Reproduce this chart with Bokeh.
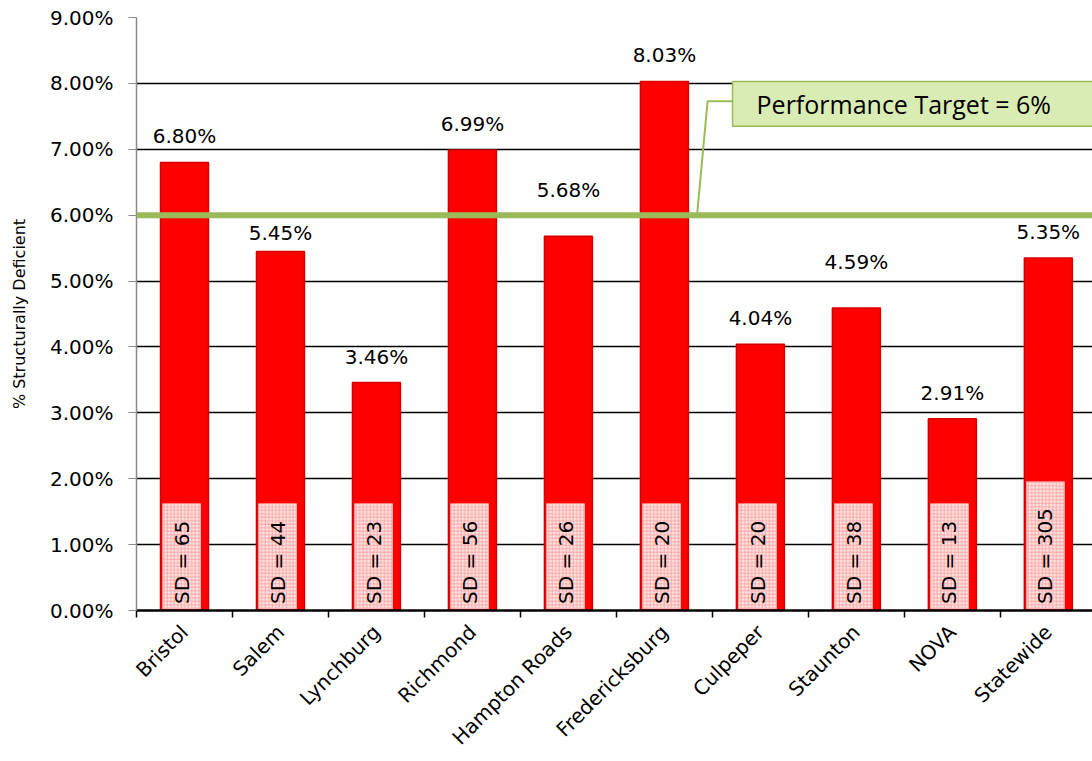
import math
from bokeh.plotting import figure
from bokeh.models import Range1d, FixedTicker, PrintfTickFormatter, Span, ColumnDataSource
from bokeh.core.properties import value
from bokeh.embed import file_html
from bokeh.resources import INLINE

# ---- data ----
regions = ["Bristol", "Salem", "Lynchburg", "Richmond", "Hampton Roads",
           "Fredericksburg", "Culpeper", "Staunton", "NOVA", "Statewide"]
pct_sd = [6.80, 5.45, 3.46, 6.99, 5.68, 8.03, 4.04, 4.59, 2.91, 5.35]
sd_count = [65, 44, 23, 56, 26, 20, 20, 38, 13, 305]
target = 6.0
y_ticks = [0, 1, 2, 3, 4, 5, 6, 7, 8, 9]
target_label = "Performance Target = 6%"

# styling: extra upward nudge (px) of some value labels, as placed in the original
label_nudge = {"Hampton Roads": 20, "Staunton": 20, "Salem": -8}

FONT = "DejaVu Sans"
RED = "#ff0000"
GREEN = "#9bbb59"

xc = [i + 0.5 for i in range(len(regions))]
sd_text = [f"SD = {n}" for n in sd_count]
src = ColumnDataSource(dict(
    x=xc,
    xbox=[x - 0.03 for x in xc],
    top=pct_sd,
    label=[f"{v:.2f}%" for v in pct_sd],
    yoff=[-14 - label_nudge.get(r, 0) for r in regions],
    sd=sd_text,
    boxtop=[0.232 * len(t) + (0.1 if len(t) > 7 else 0) for t in sd_text],
))

p = figure(width=1092, height=761,
           x_range=Range1d(0, 9.96), y_range=Range1d(0, 9),
           output_backend="svg", toolbar_location=None,
           min_border_left=136, min_border_right=0,
           min_border_top=17, min_border_bottom=150)
p.outline_line_color = None
p.background_fill_color = "white"

# grid
p.xgrid.grid_line_color = None
p.ygrid.ticker = FixedTicker(ticks=y_ticks[1:])
p.ygrid.grid_line_color = "black"
p.ygrid.grid_line_width = 1.5

# bars
p.vbar(x="x", width=0.5, top="top", bottom=0, source=src,
       fill_color=RED, line_color="#d40000", line_width=1.5)

# hatched SD boxes
p.vbar(x="xbox", width=0.4, top="boxtop", bottom=0.02, source=src,
       fill_color="#ffe4e4", line_color=None,
       hatch_pattern="cross", hatch_color="#ff9a9a", hatch_scale=3.5, hatch_weight=0.8)

p.text(x="xbox", y=0.1, text="sd", source=src, angle=math.pi / 2,
       text_align="left", text_baseline="middle",
       text_font=value(FONT), text_font_size="20px", text_color="black")

# value labels
p.text(x="x", y="top", text="label", source=src, y_offset="yoff",
       text_align="center", text_baseline="bottom",
       text_font=value(FONT), text_font_size="20px", text_color="black")

# target line
p.add_layout(Span(location=target, dimension="width",
                  line_color=GREEN, line_width=6))

# callout
cb_left, cb_right, cb_bot, cb_top = 6.21, 10.2, 7.35, 8.03
p.quad(left=[cb_left], right=[cb_right], bottom=[cb_bot], top=[cb_top],
       fill_color="#d9ecb4", line_color=GREEN, line_width=1.5)
p.line(x=[cb_left, 5.95, 5.84], y=[7.73, 7.73, target],
       line_color=GREEN, line_width=2)
p.text(x=[6.46], y=[(cb_bot + cb_top) / 2], text=[target_label],
       text_align="left", text_baseline="middle",
       text_font=value("Open Sans"), text_font_size="25px", text_color="black")

# x axis
xa = p.xaxis[0]
xa.ticker = FixedTicker(ticks=xc, minor_ticks=list(range(0, 11)))
xa.major_label_overrides = {x: r for x, r in zip(xc, regions)}
xa.major_tick_line_color = None
xa.major_tick_out = 0
xa.major_tick_in = 0
xa.minor_tick_line_color = "black"
xa.minor_tick_line_width = 1.5
xa.minor_tick_out = 7
xa.minor_tick_in = 0
xa.axis_line_color = "black"
xa.axis_line_width = 2.5
xa.major_label_orientation = math.pi / 4
xa.major_label_standoff = 11
xa.major_label_text_font = FONT
xa.major_label_text_font_size = "20px"
xa.major_label_text_color = "black"

# y axis
ya = p.yaxis[0]
ya.ticker = FixedTicker(ticks=y_ticks)
ya.formatter = PrintfTickFormatter(format="%.2f%%")
ya.axis_line_color = "#8a8a8a"
ya.axis_line_width = 1.5
ya.major_tick_line_color = "#8a8a8a"
ya.major_tick_out = 8
ya.major_tick_in = 0
ya.minor_tick_line_color = None
ya.major_label_standoff = 15
ya.major_label_text_font = FONT
ya.major_label_text_font_size = "20px"
ya.major_label_text_color = "black"
ya.axis_label = "% Structurally Deficient"
ya.axis_label_text_font = FONT
ya.axis_label_text_font_size = "16px"
ya.axis_label_text_font_style = "normal"
ya.axis_label_text_color = "black"
ya.axis_label_standoff = 18

open("out.html", "w").write(file_html(p, INLINE))
